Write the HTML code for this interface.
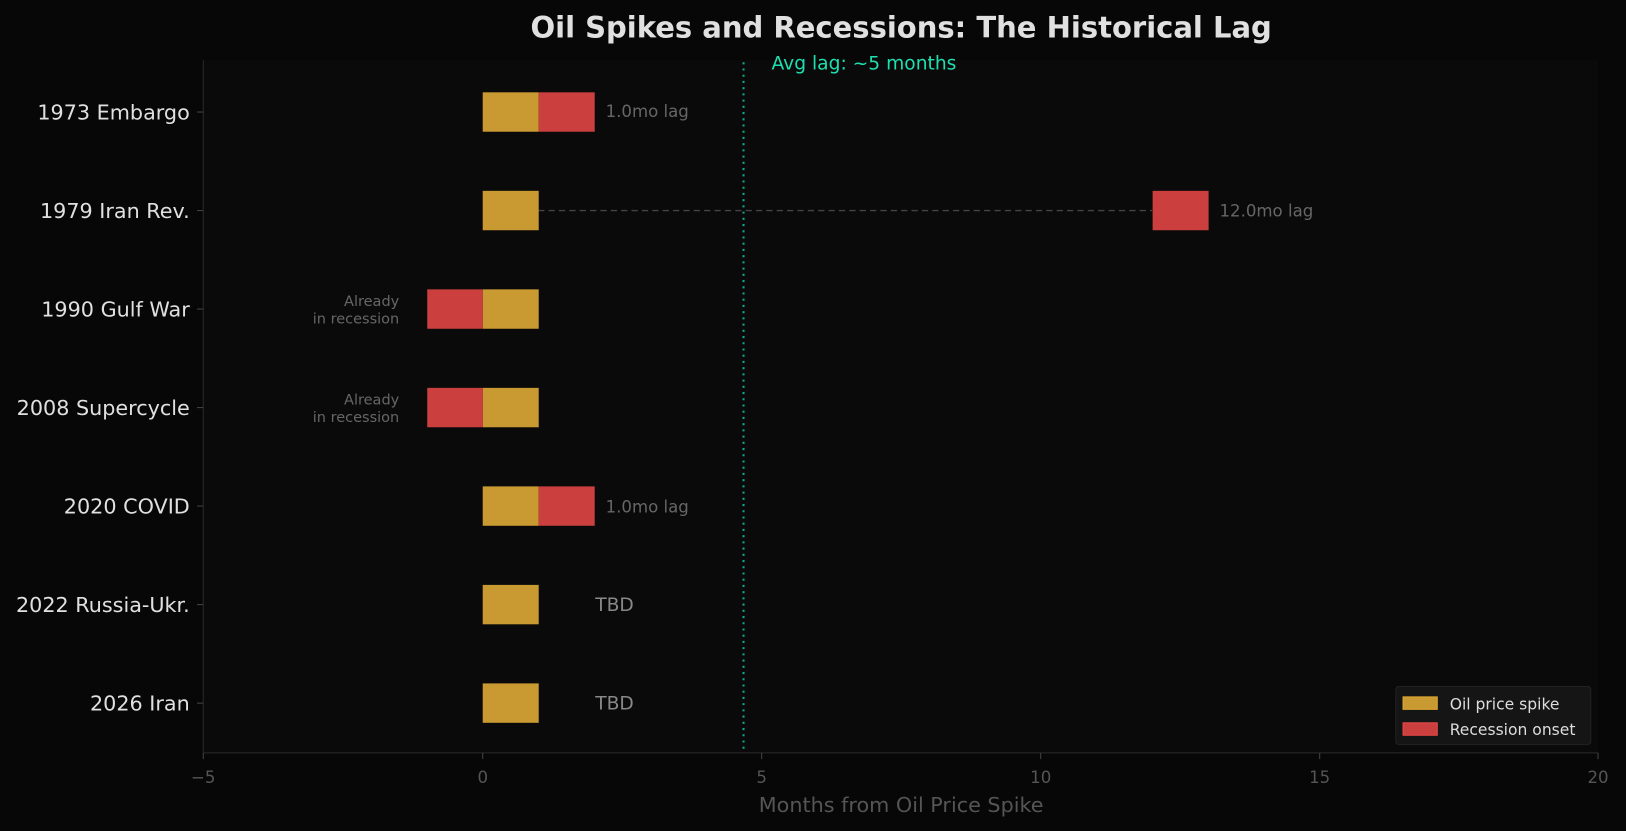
<!DOCTYPE html><html><head><style>body{margin:0;background:#070707}svg{display:block}text{font-family:"DejaVu Sans","Liberation Sans",sans-serif}</style></head><body>
<svg width="1626" height="831" viewBox="0 0 1568 801.3" xmlns="http://www.w3.org/2000/svg">
<rect width="1568" height="802" fill="#070707"/>
<rect x="196" y="58" width="1345" height="668" fill="#0a0a0a"/>
<line x1="196" y1="58" x2="196" y2="726" stroke="#2a2a2a"/>
<line x1="196" y1="726" x2="1541" y2="726" stroke="#2a2a2a"/>
<text x="869" y="36" text-anchor="middle" font-size="28" font-weight="bold" fill="#e0e0e0">Oil Spikes and Recessions: The Historical Lag</text>
<g font-size="16" fill="#555" text-anchor="middle">
<line x1="196" y1="726" x2="196" y2="732" stroke="#444"/><text x="196" y="755">−5</text>
<line x1="465.5" y1="726" x2="465.5" y2="732" stroke="#444"/><text x="465.5" y="755">0</text>
<line x1="734.5" y1="726" x2="734.5" y2="732" stroke="#444"/><text x="734.5" y="755">5</text>
<line x1="1003.6" y1="726" x2="1003.6" y2="732" stroke="#444"/><text x="1003.6" y="755">10</text>
<line x1="1272.6" y1="726" x2="1272.6" y2="732" stroke="#444"/><text x="1272.6" y="755">15</text>
<line x1="1541" y1="726" x2="1541" y2="732" stroke="#444"/><text x="1541" y="755">20</text>
</g>
<text x="869" y="783" text-anchor="middle" font-size="20" fill="#555">Months from Oil Price Spike</text>
<g font-size="20" fill="#e0e0e0" text-anchor="end">
<text x="183" y="115">1973 Embargo</text><text x="183" y="210">1979 Iran Rev.</text><text x="183" y="305">1990 Gulf War</text><text x="183" y="400">2008 Supercycle</text><text x="183" y="495">2020 COVID</text><text x="183" y="590">2022 Russia-Ukr.</text><text x="183" y="685">2026 Iran</text>
</g>
<g stroke="#444"><line x1="190" y1="108" x2="196" y2="108"/><line x1="190" y1="203" x2="196" y2="203"/><line x1="190" y1="298" x2="196" y2="298"/><line x1="190" y1="393" x2="196" y2="393"/><line x1="190" y1="488" x2="196" y2="488"/><line x1="190" y1="583" x2="196" y2="583"/><line x1="190" y1="678" x2="196" y2="678"/></g>
<line x1="519" y1="203" x2="1111" y2="203" stroke="#444" stroke-dasharray="6,4" stroke-width="1.3"/>
<line x1="717" y1="60" x2="717" y2="726" stroke="#10a88a" stroke-width="2" stroke-dasharray="2,4"/>
<text x="744" y="67" font-size="18" fill="#1de0b0">Avg lag: ~5 months</text>
<g fill="#c99a32">
<rect x="465.5" y="89" width="54" height="38"/><rect x="465.5" y="184" width="54" height="38"/><rect x="465.5" y="279" width="54" height="38"/><rect x="465.5" y="374" width="54" height="38"/><rect x="465.5" y="469" width="54" height="38"/><rect x="465.5" y="564" width="54" height="38"/><rect x="465.5" y="659" width="54" height="38"/>
</g>
<g fill="#cc3f3f">
<rect x="519.5" y="89" width="54" height="38"/><rect x="1111.5" y="184" width="54" height="38"/><rect x="412" y="279" width="53.5" height="38"/><rect x="412" y="374" width="53.5" height="38"/><rect x="519.5" y="469" width="54" height="38"/>
</g>
<g font-size="16" fill="#666">
<text x="584" y="113">1.0mo lag</text><text x="1176" y="209">12.0mo lag</text><text x="584" y="494">1.0mo lag</text>
</g>
<g font-size="14" fill="#666" text-anchor="end">
<text x="385" y="295">Already</text><text x="385" y="312">in recession</text>
<text x="385" y="390">Already</text><text x="385" y="407">in recession</text>
</g>
<g font-size="18" fill="#888"><text x="574" y="589">TBD</text><text x="574" y="684">TBD</text></g>
<rect x="1346" y="662" width="188" height="56" rx="3" fill="#151515" stroke="#222"/>
<rect x="1353" y="672" width="33" height="12" fill="#c99a32" stroke="#e0a830"/>
<rect x="1353" y="697" width="33" height="12" fill="#cc3f3f" stroke="#e84848"/>
<g font-size="15" fill="#ddd"><text x="1398" y="684">Oil price spike</text><text x="1398" y="709">Recession onset</text></g>
</svg></body></html>
